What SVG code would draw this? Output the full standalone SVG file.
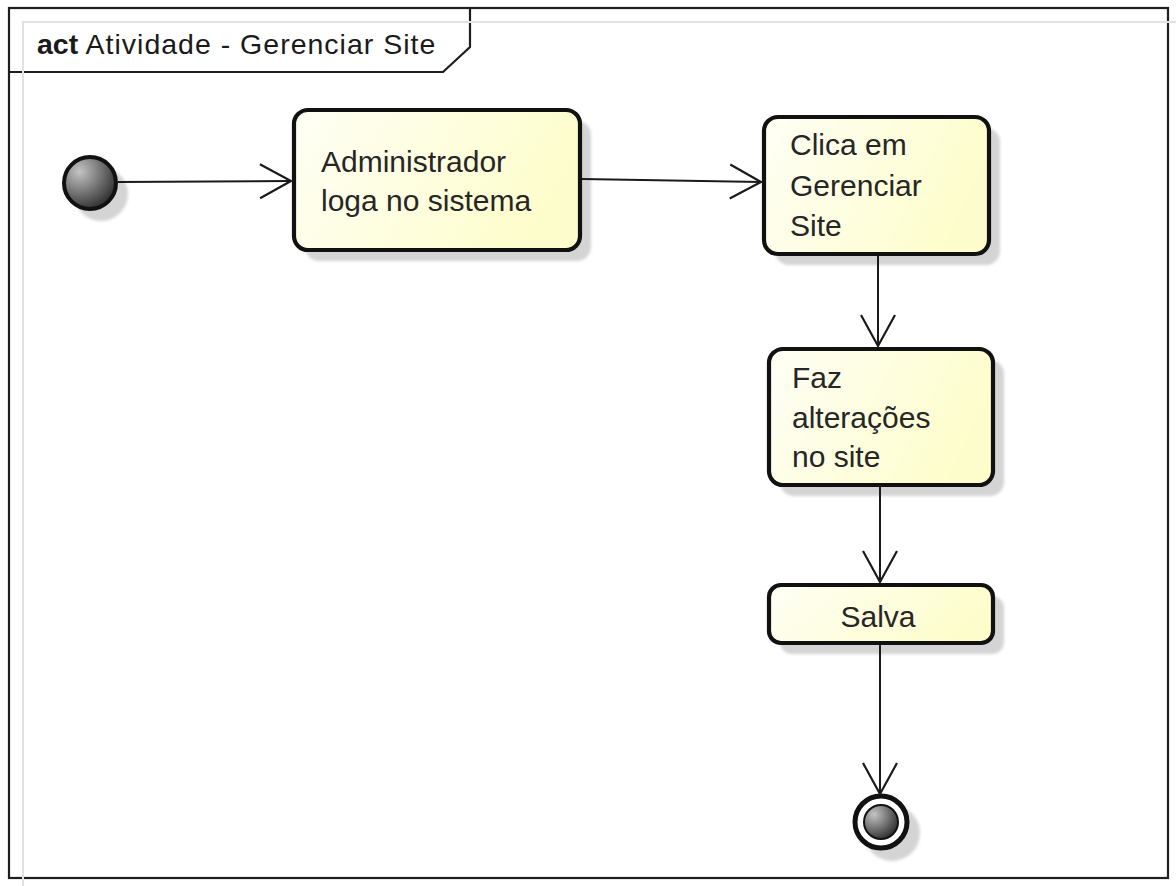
<svg xmlns="http://www.w3.org/2000/svg" width="1176" height="886" viewBox="0 0 1176 886">
  <style>
    .frame { fill: none; stroke: #1e1e1e; stroke-width: 2.2; }
    .guide { stroke: #e2e2e2; stroke-width: 2; fill: none; }
    .action { fill: url(#actionFill); stroke: #111; stroke-width: 4.2; }
    .shadow { fill: #d4d4d4; filter: url(#soft); }
    .label { font-family: "Liberation Sans", Arial, sans-serif; font-size: 30px; fill: #262626; }
    .title { font-family: "Liberation Sans", Arial, sans-serif; font-size: 28.5px; fill: #1a1a1a; letter-spacing: 1px; }
    .flow { stroke: #1a1a1a; stroke-width: 2; fill: none; marker-end: url(#open); }
  </style>
  <defs>
    <linearGradient id="actionFill" x1="0" y1="0" x2="1" y2="0.3">
      <stop offset="0" stop-color="#fffff6"/>
      <stop offset="1" stop-color="#fdfdcc"/>
    </linearGradient>
    <radialGradient id="ball" cx="0.3" cy="0.28" r="0.8">
      <stop offset="0" stop-color="#c4c4c4"/>
      <stop offset="1" stop-color="#2a2a2a"/>
    </radialGradient>
    <filter id="soft" x="-20%" y="-20%" width="140%" height="140%">
      <feGaussianBlur stdDeviation="1.6"/>
    </filter>
    <marker id="open" markerUnits="userSpaceOnUse" markerWidth="40" markerHeight="40" viewBox="-34 -20 36 40" refX="0" refY="0" orient="auto">
      <path d="M-31,-17 L0,0 L-31,17" fill="none" stroke="#1a1a1a" stroke-width="2.2"/>
    </marker>
  </defs>

  <rect width="1176" height="886" fill="#ffffff"/>

  <!-- diagram frame and name tab -->
  <g id="frame">
    <rect class="frame" x="9" y="8" width="1159" height="870"/>
    <path class="frame" d="M9,72 L443,72 L470,47 L470,8"/>
    <text class="title" x="37" y="54"><tspan font-weight="bold" letter-spacing="0">act</tspan> Atividade - Gerenciar Site</text>
    <line class="guide" x1="22" y1="22" x2="1176" y2="22"/>
    <line class="guide" x1="23" y1="22" x2="23" y2="886"/>
  </g>

  <g id="start">
    <circle class="shadow" cx="101" cy="194" r="27"/>
    <circle cx="90" cy="183" r="26" fill="url(#ball)" stroke="#111" stroke-width="4"/>
  </g>

  <g id="login">
    <rect class="shadow" x="305" y="121" width="286" height="140" rx="14"/>
    <rect class="action" x="294" y="110" width="286" height="140" rx="14"/>
    <text class="label" x="321" y="172">Administrador</text>
    <text class="label" x="321" y="211">loga no sistema</text>
  </g>

  <g id="manage">
    <rect class="shadow" x="775" y="128" width="225" height="137" rx="14"/>
    <rect class="action" x="764" y="117" width="225" height="137" rx="14"/>
    <text class="label" x="790" y="155">Clica em</text>
    <text class="label" x="790" y="196">Gerenciar</text>
    <text class="label" x="790" y="236">Site</text>
  </g>

  <g id="edit">
    <rect class="shadow" x="780" y="360" width="224" height="136" rx="14"/>
    <rect class="action" x="769" y="349" width="224" height="136" rx="14"/>
    <text class="label" x="792" y="388">Faz</text>
    <text class="label" x="792" y="428">alterações</text>
    <text class="label" x="792" y="467">no site</text>
  </g>

  <g id="save">
    <rect class="shadow" x="780" y="596" width="224" height="58" rx="12"/>
    <rect class="action" x="769" y="585" width="224" height="58" rx="12"/>
    <text class="label" x="878" y="627" text-anchor="middle">Salva</text>
  </g>

  <g id="end">
    <circle class="shadow" cx="892" cy="833" r="28"/>
    <circle cx="881" cy="822" r="26" fill="#ffffff" stroke="#111" stroke-width="5"/>
    <circle cx="881" cy="822" r="17" fill="url(#ball)" stroke="#111" stroke-width="2"/>
  </g>

  <!-- control flows, drawn over the node shadows -->
  <g id="connectors">
    <line class="flow" x1="118" y1="182" x2="291" y2="181"/>
    <line class="flow" x1="582" y1="179" x2="761" y2="182"/>
    <line class="flow" x1="878" y1="256" x2="878" y2="346"/>
    <line class="flow" x1="880" y1="487" x2="880" y2="582"/>
    <line class="flow" x1="880" y1="645" x2="880" y2="794"/>
  </g>
</svg>
